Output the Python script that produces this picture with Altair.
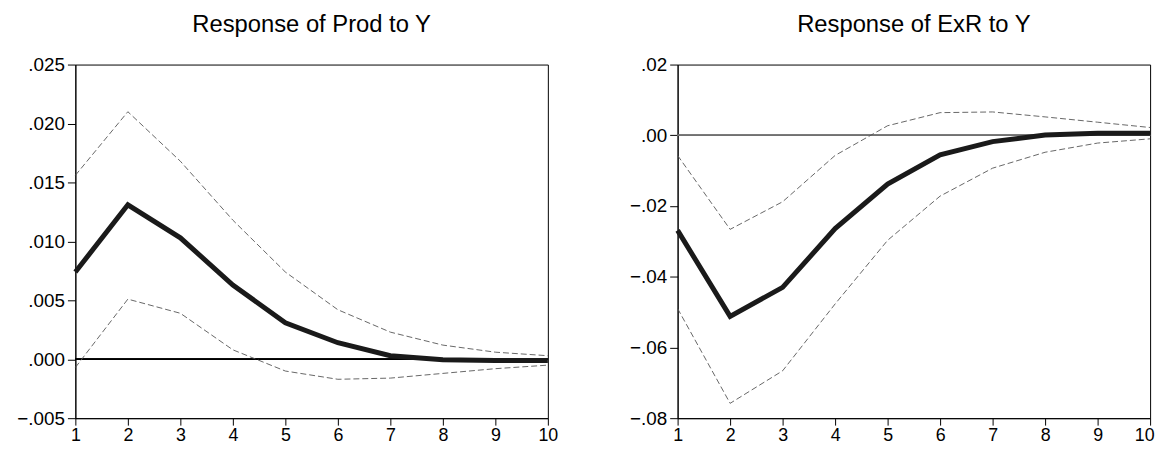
import altair as alt
import pandas as pd

periods = [1, 2, 3, 4, 5, 6, 7, 8, 9, 10]

prod_resp = [0.0074, 0.0131, 0.0103, 0.0063, 0.0031, 0.0014, 0.0003, -0.00005, -0.0001, -0.0001]
prod_upper = [0.0156, 0.0210, 0.0168, 0.0118, 0.0074, 0.0042, 0.0023, 0.0012, 0.0006, 0.0003]
prod_lower = [-0.0007, 0.0051, 0.0039, 0.0008, -0.0010, -0.0017, -0.0016, -0.0012, -0.0008, -0.0005]

exr_resp = [-0.0269, -0.0512, -0.0430, -0.0264, -0.0138, -0.0055, -0.0018, 0.0001, 0.0006, 0.0006]
exr_upper = [-0.0057, -0.0266, -0.0188, -0.0057, 0.0027, 0.0064, 0.0066, 0.0052, 0.0037, 0.0022]
exr_lower = [-0.0490, -0.0758, -0.0666, -0.0477, -0.0297, -0.0172, -0.0093, -0.0048, -0.0022, -0.0010]

FONT = "Liberation Sans"


def panel(title, resp, upper, lower, ydomain, ystep, fmt, zero_color, last_shift):
    df = pd.DataFrame({"period": periods, "resp": resp, "upper": upper, "lower": lower})
    x = alt.X("period:Q", scale=alt.Scale(domain=[1, 10], nice=False, zero=False),
              axis=alt.Axis(values=periods, format="d", title=None,
                            labelOffset={"condition": {"test": "datum.value == 10", "value": last_shift},
                                         "value": 0}))
    yscale = alt.Scale(domain=ydomain, nice=False, zero=False)
    vals = []
    v = ydomain[0]
    while v <= ydomain[1] + 1e-9:
        vals.append(round(v, 4))
        v += ystep
    yaxis = alt.Axis(values=vals, title=None,
                     labelExpr=f"replace(format(datum.value, '{fmt}'), '0.', '.')")
    base = alt.Chart(df)
    zero = base.mark_rule(color=zero_color, strokeWidth=1).encode(y=alt.datum(0, scale=yscale))
    band_u = base.mark_line(color="#555555", strokeWidth=0.9, strokeDash=[6, 3]).encode(
        x=x, y=alt.Y("upper:Q", scale=yscale, axis=yaxis))
    band_l = base.mark_line(color="#555555", strokeWidth=0.9, strokeDash=[6, 3]).encode(
        x=x, y=alt.Y("lower:Q", scale=yscale))
    main = base.mark_line(color="#1a1a1a", strokeWidth=5).encode(
        x=x, y=alt.Y("resp:Q", scale=yscale))
    return alt.layer(zero, band_u, band_l, main).properties(
        width=477, height=357,
        title=alt.TitleParams(title, fontSize=24, font=FONT, fontWeight="normal",
                              color="#000000", offset=19, anchor="middle"),
    )


left = panel("Response of Prod to Y", prod_resp, prod_upper, prod_lower,
             [-0.005, 0.025], 0.005, ".3f", "#000000", 0)
right = panel("Response of ExR to Y", exr_resp, exr_upper, exr_lower,
              [-0.08, 0.02], 0.02, ".2f", "#707070", -6)

chart = alt.hconcat(left, right, spacing=70).configure_view(
    stroke="#000000", strokeWidth=1
).configure_axis(
    labelFont=FONT, labelColor="#000000",
    domainColor="#000000", tickColor="#000000", tickSize=7, labelPadding=2,
    grid=False, labelFlush=False,
).configure_axisY(labelFontSize=19, labelPadding=3, tickSize=8
).configure_axisX(labelFontSize=18
).properties(background="white", padding={"left": 8, "top": 2, "right": 0, "bottom": 0})

chart.save("out.html", embed_options={"renderer": "svg", "actions": False})
